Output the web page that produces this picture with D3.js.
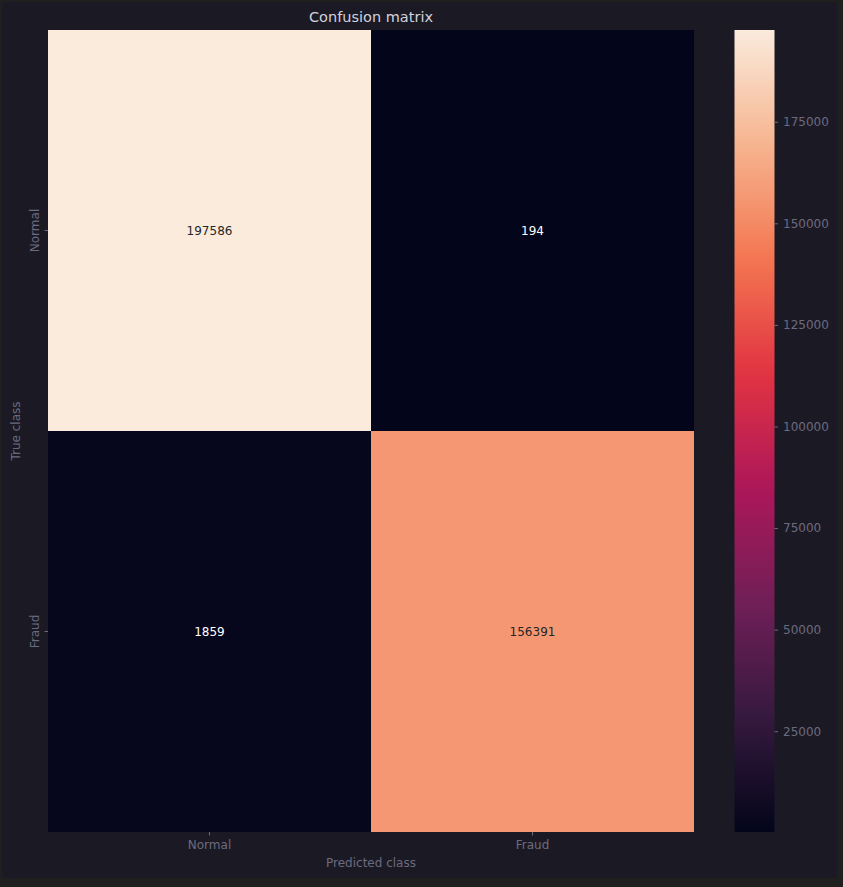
<!DOCTYPE html>
<html><head><meta charset="utf-8">
<script src="https://cdn.jsdelivr.net/npm/d3@7"></script>
<style>
html,body{margin:0;padding:0;background:#1f1f1f;}
svg{display:block;font-family:"DejaVu Sans",sans-serif;}
</style></head>
<body><svg id="c" width="843" height="887"></svg>
<script>
const trueClasses = ["Normal", "Fraud"];
const predClasses = ["Normal", "Fraud"];
const matrix = [[197586, 194], [1859, 156391]];
const cbarTicks = [25000, 50000, 75000, 100000, 125000, 150000, 175000];
const rocketStops = ["#03051a","#35193e","#701f57","#ad1759","#e13342","#f37651","#f6b48f","#faebdd"];

const svg = d3.select("#c");
const tickColor = "#6c6a80";
svg.append("rect").attr("x",2).attr("y",2).attr("width",835).attr("height",876).attr("fill","#1b1a24");

const L = 48, R = 694, T = 30, B = 832;
const x = d3.scaleBand().domain(predClasses).range([L, R]);
const y = d3.scaleBand().domain(trueClasses).range([T, B]);
const flat = matrix.flat();
const vmin = d3.min(flat), vmax = d3.max(flat);
const interp = d3.piecewise(d3.interpolateRgb, rocketStops);
const color = v => interp((v - vmin) / (vmax - vmin));

const cells = [];
trueClasses.forEach((t,i)=>predClasses.forEach((p,j)=>cells.push({t,p,v:matrix[i][j]})));

svg.selectAll("rect.cell").data(cells).enter().append("rect")
  .attr("x",d=>x(d.p)).attr("y",d=>y(d.t))
  .attr("width",x.bandwidth()).attr("height",y.bandwidth())
  .attr("fill",d=>color(d.v));

svg.selectAll("text.val").data(cells).enter().append("text")
  .attr("x",d=>x(d.p)+x.bandwidth()/2).attr("y",d=>y(d.t)+y.bandwidth()/2)
  .attr("text-anchor","middle").attr("dominant-baseline","central")
  .attr("font-size","12px")
  .attr("fill",d=>((d.v-vmin)/(vmax-vmin))>0.5?"#262626":"#ffffff")
  .text(d=>d.v);

// axes
const xAxis = d3.axisBottom(x).tickSize(3.5).tickPadding(5);
const gx = svg.append("g").attr("transform",`translate(0,${B})`).call(xAxis);
gx.select(".domain").remove();
gx.selectAll("line").attr("stroke",tickColor);
gx.selectAll("text").attr("fill",tickColor).attr("font-size","12px").attr("font-family","DejaVu Sans");

const yAxis = d3.axisLeft(y).tickSize(3.5).tickPadding(4);
const gy = svg.append("g").attr("transform",`translate(${L},0)`).call(yAxis);
gy.select(".domain").remove();
gy.selectAll("line").attr("stroke",tickColor);
gy.selectAll("text").attr("fill",tickColor).attr("font-size","12px").attr("font-family","DejaVu Sans")
  .attr("x",null).attr("dy",null)
  .attr("text-anchor","middle")
  .attr("transform","translate(-9,0) rotate(-90)");

svg.append("text").attr("x",(L+R)/2).attr("y",867).attr("text-anchor","middle")
  .attr("fill",tickColor).attr("font-size","12px").text("Predicted class");
svg.append("text").attr("transform",`translate(20,${(T+B)/2}) rotate(-90)`).attr("text-anchor","middle")
  .attr("fill",tickColor).attr("font-size","12px").text("True class");
svg.append("text").attr("x",(L+R)/2).attr("y",22).attr("text-anchor","middle")
  .attr("fill","#d2d2de").attr("font-size","14.5px").text("Confusion matrix");

// colorbar
const cbL = 734.5, cbW = 40;
const cy = d3.scaleLinear().domain([vmin, vmax]).range([B, T]);
const defs = svg.append("defs");
const grad = defs.append("linearGradient").attr("id","cb").attr("x1",0).attr("y1",1).attr("x2",0).attr("y2",0);
d3.range(0,1.0001,0.02).forEach(t=>grad.append("stop").attr("offset",t).attr("stop-color",interp(t)));
svg.append("rect").attr("x",cbL).attr("y",T).attr("width",cbW).attr("height",B-T).attr("fill","url(#cb)");
const cAxis = d3.axisRight(cy).tickValues(cbarTicks).tickSize(3.5).tickPadding(5).tickFormat(d3.format("d"));
const gc = svg.append("g").attr("transform",`translate(${cbL+cbW},0)`).call(cAxis);
gc.select(".domain").remove();
gc.selectAll("line").attr("stroke",tickColor);
gc.selectAll("text").attr("fill",tickColor).attr("font-size","12px").attr("font-family","DejaVu Sans");
</script></body></html>
